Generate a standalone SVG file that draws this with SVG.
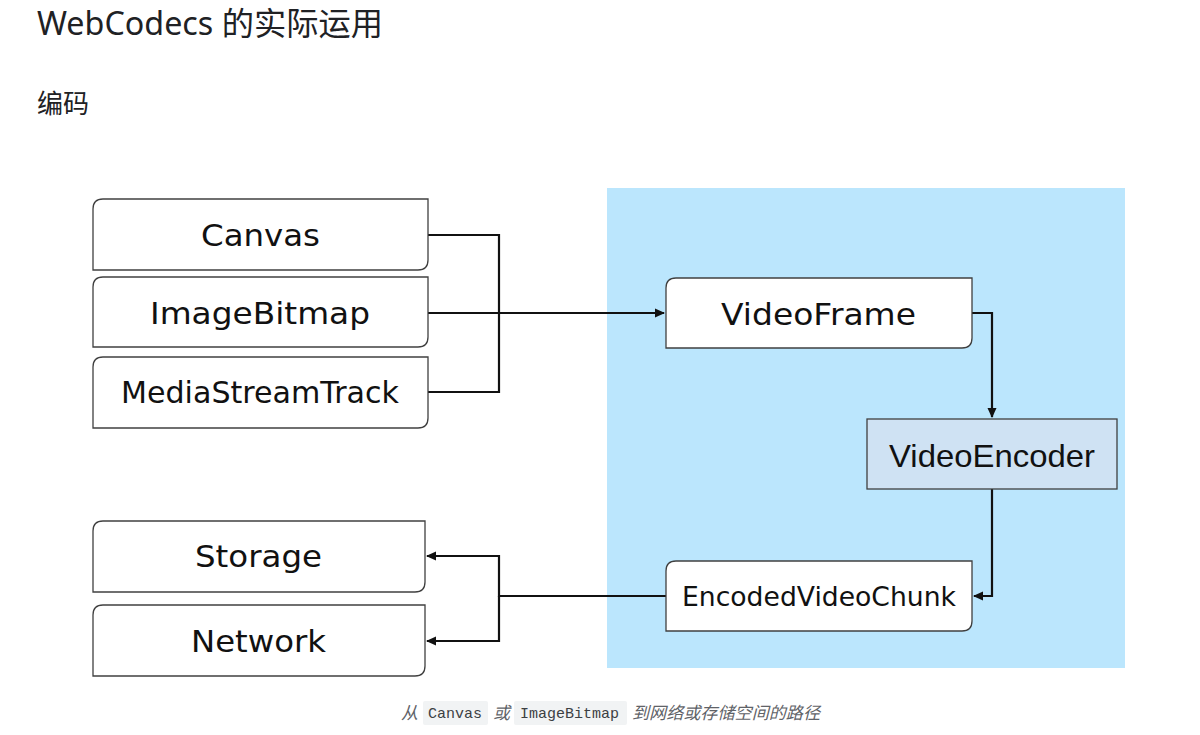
<svg xmlns="http://www.w3.org/2000/svg" width="1200" height="735" viewBox="0 0 1200 735">
<style>
.box{fill:#fff;stroke:#404040;stroke-width:1.3}
.lbl{font-family:"DejaVu Sans",Verdana,sans-serif;font-size:31px;fill:#111}
.lbl2{font-family:"Liberation Sans",Arial,sans-serif;font-size:32px;fill:#111}
.conn{fill:none;stroke:#111;stroke-width:2.2}
.cap{font-family:"Noto Sans","Noto Sans CJK SC",sans-serif;font-style:italic;font-size:17px;fill:#5f6368}
.code{font-family:"Liberation Mono","DejaVu Sans Mono",monospace;font-size:15px;fill:#3c4043}
.codebg{fill:#f1f3f4}
</style>
<defs>
<marker id="ah" markerWidth="10" markerHeight="10" refX="9" refY="5" orient="auto" markerUnits="userSpaceOnUse">
<path d="M0,0.5 L10,5 L0,9.5 Z" fill="#111"/>
</marker>
</defs>
<rect width="1200" height="735" fill="#fff"/>
<text x="37" y="35" font-family="'Noto Sans','Noto Sans CJK SC',sans-serif" font-size="32" fill="#202124" textLength="346" lengthAdjust="spacingAndGlyphs">WebCodecs 的实际运用</text>
<text x="37" y="113" font-family="'Noto Sans','Noto Sans CJK SC',sans-serif" font-size="26" fill="#202124">编码</text>
<rect id="panel" x="607" y="188" width="518" height="480" fill="#bbe6fd"/>
<g id="connectors">
<path class="conn" d="M428,235 H499 V392 H428"/>
<path class="conn" d="M428,313 H664" marker-end="url(#ah)"/>
<path class="conn" d="M972,313 H992 V417" marker-end="url(#ah)"/>
<path class="conn" d="M992,489 V596 H974" marker-end="url(#ah)"/>
<path class="conn" d="M666,596 H499 V556 H427" marker-end="url(#ah)"/>
<path class="conn" d="M499,596 V641 H427" marker-end="url(#ah)"/>
</g>
<g id="canvas"><path class="box" d="M103,199 H428 V260 Q428,270 418,270 H93 V209 Q93,199 103,199 Z"/><text class="lbl" x="201" y="246" textLength="119" lengthAdjust="spacingAndGlyphs">Canvas</text></g>
<g id="imagebitmap"><path class="box" d="M103,277 H428 V337 Q428,347 418,347 H93 V287 Q93,277 103,277 Z"/><text class="lbl" x="150" y="324" textLength="220" lengthAdjust="spacingAndGlyphs">ImageBitmap</text></g>
<g id="mediastreamtrack"><path class="box" d="M103,357 H428 V418 Q428,428 418,428 H93 V367 Q93,357 103,357 Z"/><text class="lbl" x="121" y="403" textLength="278" lengthAdjust="spacingAndGlyphs">MediaStreamTrack</text></g>
<g id="storage"><path class="box" d="M103,521 H425 V582 Q425,592 415,592 H93 V531 Q93,521 103,521 Z"/><text class="lbl" x="195" y="567" textLength="127" lengthAdjust="spacingAndGlyphs">Storage</text></g>
<g id="network"><path class="box" d="M103,605 H425 V666 Q425,676 415,676 H93 V615 Q93,605 103,605 Z"/><text class="lbl" x="191" y="652" textLength="135" lengthAdjust="spacingAndGlyphs">Network</text></g>
<g id="videoframe"><path class="box" d="M676,278 H972 V338 Q972,348 962,348 H666 V288 Q666,278 676,278 Z"/><text class="lbl" x="721" y="325" textLength="195" lengthAdjust="spacingAndGlyphs">VideoFrame</text></g>
<g id="videoencoder"><rect x="867" y="419" width="250" height="70" fill="#cfe2f3" stroke="#404040" stroke-width="1.3"/><text class="lbl2" x="889" y="467" textLength="206" lengthAdjust="spacingAndGlyphs">VideoEncoder</text></g>
<g id="encodedvideochunk"><path class="box" d="M676,561 H972 V621 Q972,631 962,631 H666 V571 Q666,561 676,561 Z"/><text class="lbl" x="682" y="606" style="font-size:27px" textLength="274" lengthAdjust="spacingAndGlyphs">EncodedVideoChunk</text></g>
<g id="caption">
<rect class="codebg" x="423" y="701" width="65" height="24" rx="2"/>
<rect class="codebg" x="514" y="701" width="113" height="24" rx="2"/>
<text class="cap" x="401" y="719">从</text>
<text class="code" x="428" y="718">Canvas</text>
<text class="cap" x="493" y="719">或</text>
<text class="code" x="520" y="718">ImageBitmap</text>
<text class="cap" x="632" y="719" textLength="188" lengthAdjust="spacingAndGlyphs">到网络或存储空间的路径</text>
</g>
</svg>
